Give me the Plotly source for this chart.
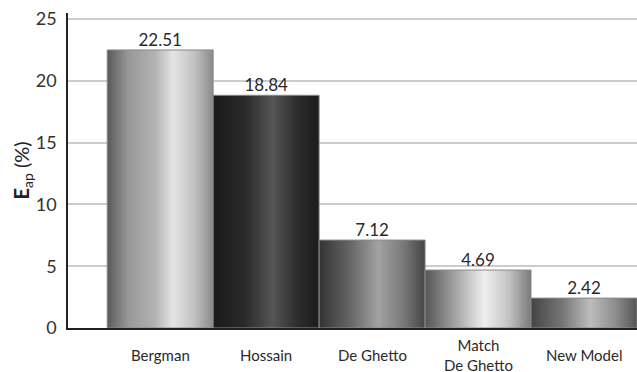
import plotly.graph_objects as go

# Average absolute percent error by model
models = ["Bergman", "Hossain", "De Ghetto", "Match<br>De Ghetto", "New Model"]
eap = [22.51, 18.84, 7.12, 4.69, 2.42]

# Cylinder-like horizontal shading for each bar
shades = [
    [[0, "#5a5a5a"], [0.2, "#989898"], [0.45, "#b2b2b2"], [0.62, "#e4e4e4"], [0.82, "#c2c2c2"], [1, "#8a8a8a"]],
    [[0, "#1a1a1a"], [0.3, "#2a2a2a"], [0.56, "#555555"], [0.8, "#2c2c2c"], [1, "#1c1c1c"]],
    [[0, "#333333"], [0.3, "#676767"], [0.56, "#a2a2a2"], [0.8, "#787878"], [1, "#454545"]],
    [[0, "#555555"], [0.25, "#9a9a9a"], [0.56, "#f0f0f0"], [0.8, "#c0c0c0"], [1, "#7a7a7a"]],
    [[0, "#444444"], [0.3, "#777777"], [0.56, "#bdbdbd"], [0.8, "#8c8c8c"], [1, "#555555"]],
]

FONT = "Lato"
half = 0.5

fig = go.Figure()
for i, (v, cs) in enumerate(zip(eap, shades)):
    fig.add_trace(go.Scatter(
        x=[i - half, i + half, i + half, i - half, i - half],
        y=[0, 0, v, v, 0],
        mode="lines",
        fill="toself",
        fillgradient=dict(type="horizontal", colorscale=cs),
        line=dict(color="#8a8a8a", width=1),
        hoverinfo="skip",
        showlegend=False,
    ))

# value labels above bars
fig.add_trace(go.Scatter(
    x=list(range(len(eap))),
    y=eap,
    mode="text",
    text=[f"{v:.2f}" for v in eap],
    textposition="top center",
    textfont=dict(family=FONT, size=17, color="#2a2a2a"),
    showlegend=False,
    hoverinfo="skip",
    cliponaxis=False,
))

# category labels, vertically centred below the axis
for i, name in enumerate(models):
    fig.add_annotation(
        x=i, xref="x", y=0, yref="paper", yshift=-27,
        text=name, showarrow=False,
        xanchor="center", yanchor="middle",
        font=dict(family=FONT, size=15, color="#2a2a2a"),
    )

# rotated y-axis title
fig.add_annotation(
    x=0, xref="paper", xshift=-46, y=0.5, yref="paper",
    text="<b>E</b><sub>ap</sub> (%)", showarrow=False, textangle=-90,
    xanchor="center", yanchor="middle",
    font=dict(family=FONT, size=20, color="#222222"),
)

fig.update_layout(
    width=637, height=372,
    margin=dict(l=68, r=0, t=13, b=44),
    paper_bgcolor="white", plot_bgcolor="white",
    xaxis=dict(
        range=[-0.87, 4.5], showgrid=False, zeroline=False,
        showticklabels=False, showline=True, linecolor="#222222", linewidth=1.5,
    ),
    yaxis=dict(
        range=[0, 25.5], tickvals=[0, 5, 10, 15, 20, 25],
        showgrid=True, gridcolor="#cccccc", gridwidth=1.5, zeroline=False,
        showline=True, linecolor="#222222", linewidth=1.5,
        tickfont=dict(family=FONT, size=18, color="#333333"),
        ticks="", ticklabelstandoff=6,
    ),
)

fig.write_html("out.html")
